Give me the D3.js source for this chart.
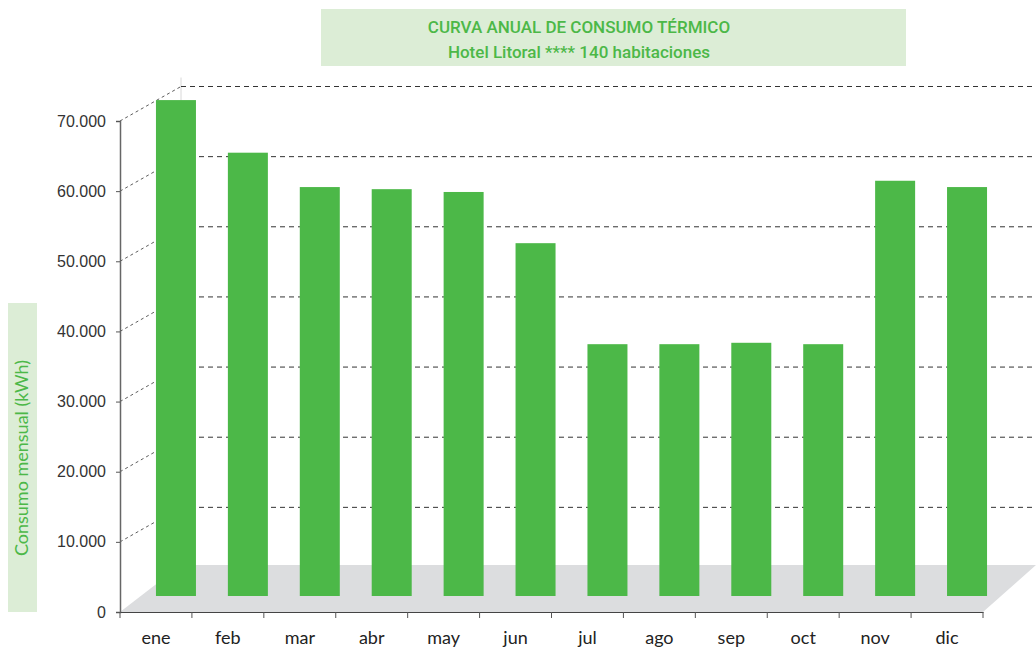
<!DOCTYPE html>
<html>
<head>
<meta charset="utf-8">
<script src="https://cdn.jsdelivr.net/npm/d3@7"></script>
<style>
  body { margin: 0; background: #fff; }
  svg { display: block; }
</style>
</head>
<body>
<svg id="chart"></svg>
<script>
const months = ['ene', 'feb', 'mar', 'abr', 'may', 'jun', 'jul', 'ago', 'sep', 'oct', 'nov', 'dic'];
const consumo = [70700, 63200, 58300, 58000, 57600, 50300, 35900, 35900, 36100, 35900, 59200, 58300];
const yTicks = [0, 10000, 20000, 30000, 40000, 50000, 60000, 70000];
const titleLines = ['CURVA ANUAL DE CONSUMO TÉRMICO', 'Hotel Litoral **** 140 habitaciones'];
const yLabel = 'Consumo mensual (kWh)';

const width = 1036, height = 648;
const green = '#4cb848', paleGreen = '#dcedd6';

// pseudo 3D depth: back wall offset and bar offset
const back = { dx: 61, dy: -34.5 };
const mid = { dx: 20, dy: -16 };

const svg = d3.select('#chart')
  .attr('width', width)
  .attr('height', height);

const x = d3.scaleBand()
  .domain(months)
  .range([120, 983])
  .padding(0);

const y = d3.scaleLinear()
  .domain([0, 70000])
  .range([612, 121]);

const fmt = d3.formatLocale({ decimal: ',', thousands: '.', grouping: [3], currency: ['', ''] }).format(',');

// title box
svg.append('rect')
  .attr('x', 321).attr('y', 9)
  .attr('width', 585).attr('height', 57)
  .attr('fill', paleGreen);

svg.selectAll('.title')
  .data(titleLines)
  .enter()
  .append('text')
  .attr('x', 579)
  .attr('y', (d, i) => 33 + i * 25)
  .attr('text-anchor', 'middle')
  .attr('font-family', 'Roboto, sans-serif')
  .attr('font-weight', 500)
  .attr('font-size', 17)
  .attr('fill', green)
  .text(d => d);

// y label box
svg.append('rect')
  .attr('x', 8).attr('y', 303)
  .attr('width', 29).attr('height', 309)
  .attr('fill', paleGreen);

svg.append('text')
  .attr('transform', 'translate(28, 458) rotate(-90)')
  .attr('text-anchor', 'middle')
  .attr('font-family', 'Lato, sans-serif')
  .attr('font-size', 18)
  .attr('fill', green)
  .text(yLabel);

// floor
const x0 = x.range()[0], x1 = x.range()[1];
const floorBack = y(0) - 47;
svg.append('polygon')
  .attr('points', [
    [x0, y(0)], [x1, y(0)], [width, floorBack], [x0 + back.dx, floorBack]
  ].map(p => p.join(',')).join(' '))
  .attr('fill', '#dcdddf');

// back wall edge
svg.append('line')
  .attr('x1', x0 + back.dx).attr('x2', x0 + back.dx)
  .attr('y1', y(70000) + back.dy - 9).attr('y2', floorBack)
  .attr('stroke', '#d8d8d8');

// gridlines on the back wall + diagonals
const grid = svg.append('g');
yTicks.filter(d => d > 0).forEach(t => {
  grid.append('line')
    .attr('x1', x0 + back.dx).attr('x2', width)
    .attr('y1', y(t) + back.dy).attr('y2', y(t) + back.dy)
    .attr('stroke', '#333')
    .attr('stroke-dasharray', '5,4');
  grid.append('line')
    .attr('x1', x0).attr('x2', x0 + back.dx)
    .attr('y1', y(t)).attr('y2', y(t) + back.dy)
    .attr('stroke', '#333')
    .attr('stroke-width', 0.8)
    .attr('stroke-dasharray', '3,3');
});

// bars
svg.selectAll('.bar')
  .data(consumo)
  .enter()
  .append('rect')
  .attr('class', 'bar')
  .attr('x', (d, i) => x(months[i]) + x.bandwidth() / 2 + mid.dx - 20)
  .attr('y', d => y(d) + mid.dy)
  .attr('width', 40)
  .attr('height', d => y(0) - y(d))
  .attr('fill', green);

// y axis
const yAxis = svg.append('g')
  .attr('transform', `translate(${x0},0)`)
  .call(d3.axisLeft(y).tickValues(yTicks).tickSize(4).tickPadding(10).tickFormat(fmt));
yAxis.select('.domain').attr('stroke', '#666').attr('stroke-width', 1.5);
yAxis.selectAll('.tick line').attr('stroke', '#555');
yAxis.selectAll('text')
  .attr('font-family', '"Liberation Sans", Arial, sans-serif')
  .attr('font-size', 16)
  .attr('fill', '#333');

// x axis
const xAxis = svg.append('g')
  .attr('transform', `translate(0,${y(0)})`)
  .call(d3.axisBottom(x).tickSize(0).tickPadding(19));
xAxis.select('.domain').attr('stroke', '#444').attr('stroke-width', 1.2);
xAxis.selectAll('text')
  .attr('font-family', 'Lato, sans-serif')
  .attr('font-size', 18)
  .attr('fill', '#222');

xAxis.selectAll('.bound')
  .data(months.map(m => x(m)).concat([x1]))
  .enter()
  .append('line')
  .attr('x1', d => d).attr('x2', d => d)
  .attr('y1', 0).attr('y2', 6)
  .attr('stroke', '#555');
</script>
</body>
</html>
